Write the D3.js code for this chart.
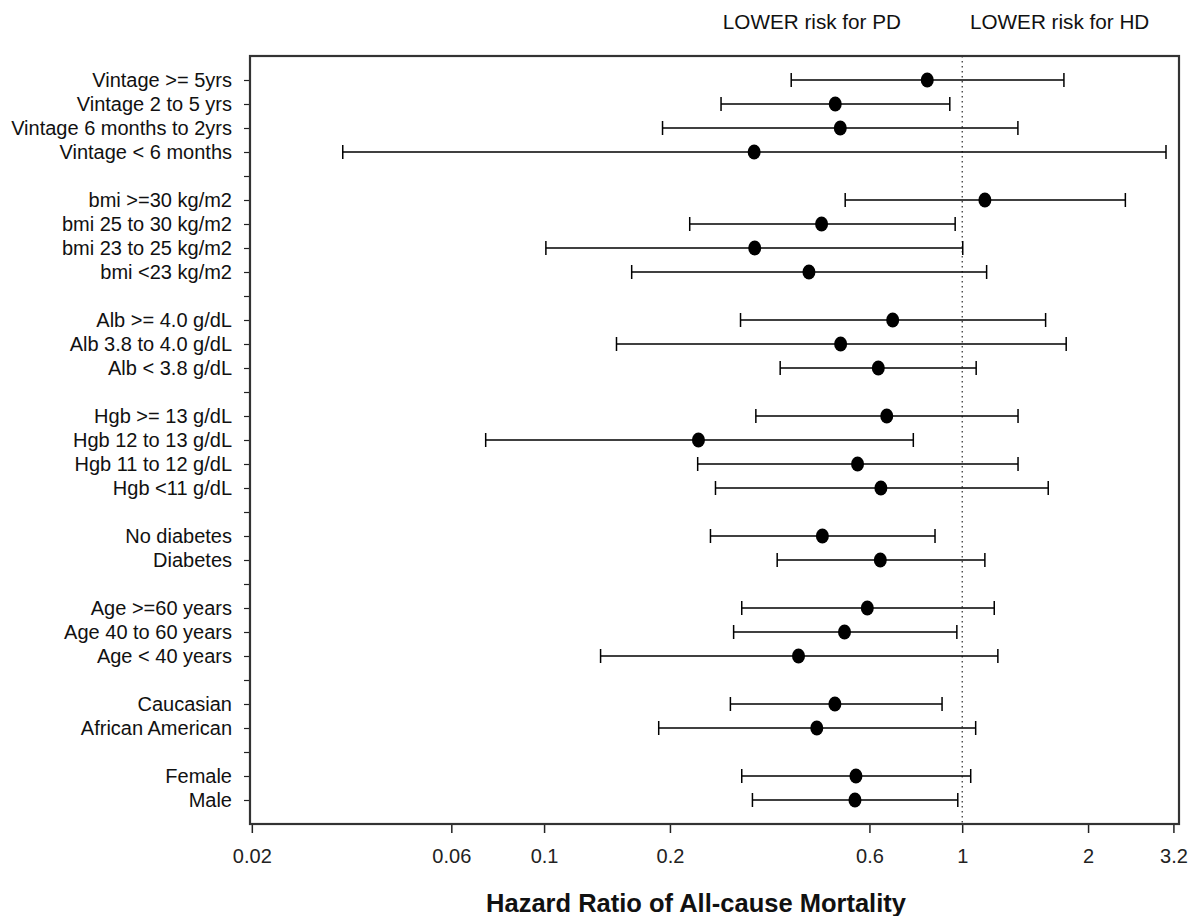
<!DOCTYPE html>
<html>
<head>
<meta charset="utf-8">
<script src="https://cdn.jsdelivr.net/npm/d3@7"></script>
<style>
  body { margin: 0; background: #fff; }
  svg { display: block; font-family: "Liberation Sans", Arial, sans-serif; }
</style>
</head>
<body>
<div id="chart"></div>
<script>
// rows top to bottom, "" = spacer row
const labels = [
  "Vintage >= 5yrs", "Vintage 2 to 5 yrs", "Vintage 6 months to 2yrs", "Vintage < 6 months", "",
  "bmi >=30 kg/m2", "bmi 25 to 30 kg/m2", "bmi 23 to 25 kg/m2", "bmi <23 kg/m2", "",
  "Alb >= 4.0 g/dL", "Alb 3.8 to 4.0 g/dL", "Alb < 3.8 g/dL", "",
  "Hgb >=  13 g/dL", "Hgb 12 to 13 g/dL", "Hgb 11 to 12 g/dL", "Hgb <11 g/dL", "",
  "No diabetes", "Diabetes", "",
  "Age >=60 years", "Age 40 to 60 years", "Age < 40 years", "",
  "Caucasian", "African American", "",
  "Female", "Male"
];
const hr = [0.825, 0.497, 0.511, 0.318, null,
  1.133, 0.461, 0.319, 0.430, null,
  0.682, 0.512, 0.630, null,
  0.660, 0.234, 0.562, 0.639, null,
  0.463, 0.637, null,
  0.593, 0.523, 0.406, null,
  0.496, 0.449, null,
  0.557, 0.554];
const lower = [0.390, 0.265, 0.192, 0.033, null,
  0.525, 0.223, 0.101, 0.162, null,
  0.295, 0.149, 0.367, null,
  0.321, 0.0725, 0.233, 0.257, null,
  0.250, 0.361, null,
  0.297, 0.284, 0.1365, null,
  0.279, 0.188, null,
  0.297, 0.315];
const upper = [1.751, 0.934, 1.359, 3.072, null,
  2.456, 0.962, 1.003, 1.144, null,
  1.583, 1.773, 1.080, null,
  1.360, 0.764, 1.360, 1.606, null,
  0.861, 1.133, null,
  1.193, 0.971, 1.217, null,
  0.895, 1.077, null,
  1.048, 0.976];
const xTicks = [0.02, 0.06, 0.1, 0.2, 0.6, 1, 2, 3.2];

const width = 1191, height = 916;
const marginLeft = 250, plotRight = 1179, plotTop = 56, plotBottom = 824;

const svg = d3.select("#chart").append("svg")
  .attr("width", width).attr("height", height);

const x = d3.scaleLog().domain([0.0198, 3.3]).range([marginLeft, plotRight]);
const y = d3.scaleLinear().domain([-1, labels.length]).range([plotTop, plotBottom]);

const data = labels.map((l, i) => ({ i, label: l, hr: hr[i], lo: lower[i], hi: upper[i] }))
  .filter(d => d.hr != null);

// reference line at HR = 1
svg.append("line")
  .attr("x1", x(1)).attr("x2", x(1))
  .attr("y1", plotTop).attr("y2", plotBottom)
  .attr("stroke", "#000").attr("stroke-width", 1)
  .attr("stroke-dasharray", "1.5,3.5");

// x axis
svg.append("g")
  .attr("transform", `translate(0,${plotBottom})`)
  .call(d3.axisBottom(x).tickValues(xTicks).tickFormat(d => String(d)).tickSize(9).tickPadding(16))
  .call(g => g.select(".domain").remove())
  .call(g => g.selectAll(".tick line").attr("stroke", "#222").attr("stroke-width", 1.5))
  .call(g => g.selectAll(".tick text").attr("font-size", 20).attr("fill", "#222")
    .attr("font-family", "Liberation Sans, Arial, sans-serif"));

// y axis
svg.append("g")
  .attr("transform", `translate(${marginLeft},0)`)
  .call(d3.axisLeft(y).tickValues(d3.range(labels.length)).tickFormat(i => labels[i]).tickSize(6).tickPadding(12))
  .call(g => g.select(".domain").remove())
  .call(g => g.selectAll(".tick line").attr("stroke", "#222").attr("stroke-width", 1.2))
  .call(g => g.selectAll(".tick text").attr("font-size", 20).attr("fill", "#111")
    .attr("font-family", "Liberation Sans, Arial, sans-serif"));

// frame
svg.append("rect")
  .attr("x", marginLeft).attr("y", plotTop)
  .attr("width", plotRight - marginLeft).attr("height", plotBottom - plotTop)
  .attr("fill", "none").attr("stroke", "#333").attr("stroke-width", 2.2);

// error bars
const bars = svg.append("g").selectAll("g").data(data).join("g");
bars.append("line")
  .attr("x1", d => x(d.lo)).attr("x2", d => x(d.hi))
  .attr("y1", d => y(d.i)).attr("y2", d => y(d.i))
  .attr("stroke", "#000").attr("stroke-width", 1.5);
bars.selectAll("line.cap").data(d => [[d.lo, d.i], [d.hi, d.i]]).join("line")
  .attr("class", "cap")
  .attr("x1", d => x(d[0])).attr("x2", d => x(d[0]))
  .attr("y1", d => y(d[1]) - 7).attr("y2", d => y(d[1]) + 7)
  .attr("stroke", "#000").attr("stroke-width", 1.5);
bars.append("ellipse")
  .attr("cx", d => x(d.hr)).attr("cy", d => y(d.i))
  .attr("rx", 6.5).attr("ry", 7.5)
  .attr("fill", "#000");

// annotations
svg.append("text")
  .attr("x", 901).attr("y", 29).attr("text-anchor", "end")
  .attr("font-size", 20.7).attr("fill", "#111")
  .text("LOWER risk for PD");
svg.append("text")
  .attr("x", 970).attr("y", 29).attr("text-anchor", "start")
  .attr("font-size", 20.7).attr("fill", "#111")
  .text("LOWER risk for HD");

svg.append("text")
  .attr("x", 696).attr("y", 912).attr("text-anchor", "middle")
  .attr("font-size", 25.5).attr("font-weight", "bold").attr("fill", "#111")
  .text("Hazard Ratio of All-cause Mortality");
</script>
</body>
</html>
